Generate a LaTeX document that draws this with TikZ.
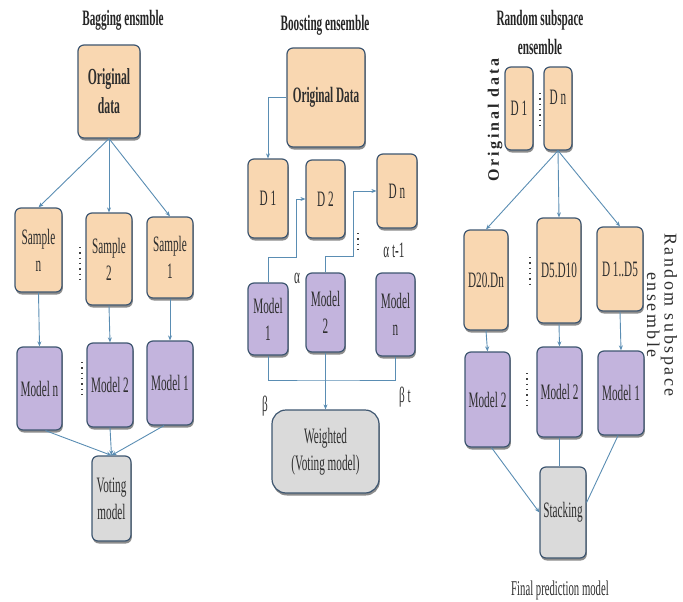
\documentclass[tikz,border=0pt]{standalone}
\usepackage{fontspec}
\setmainfont{Liberation Serif}[FakeStretch=0.51]
\newfontfamily\sidefont{Liberation Serif}[LetterSpace=14]
\newfontfamily\sideboldfont{Liberation Serif Bold}[LetterSpace=18]
\usetikzlibrary{arrows.meta,shadows,calc}

\definecolor{peach}{HTML}{F9D7B1}
\definecolor{lilac}{HTML}{C3B4DD}
\definecolor{greybox}{HTML}{DADADA}
\definecolor{edge}{HTML}{3E5670}
\definecolor{wire}{HTML}{5A8DB3}
\definecolor{txt}{HTML}{2E2E2E}

\tikzset{
  box/.style={draw=edge, line width=1.2pt, rounded corners=6pt, inner sep=0pt,
    align=center, text=txt, font=\fontsize{22}{27}\selectfont,
    drop shadow={shadow xshift=0.8pt, shadow yshift=-2.5pt, opacity=0.45, fill=black}},
  obox/.style={box, fill=peach},
  pbox/.style={box, fill=lilac},
  gbox/.style={box, fill=greybox},
  sz/.style 2 args={minimum width=#1pt, minimum height=#2pt},
  link/.style={draw=wire, line width=0.9pt, -{Stealth[length=5pt,width=4pt]}},
  plainlink/.style={draw=wire, line width=0.9pt},
  dotcol/.style={draw=black!75, line width=1.3pt, dash pattern=on 1.3pt off 4pt},
  heading/.style={font=\fontsize{22}{29}\selectfont\bfseries, text=black!85, align=center},
  note/.style={font=\fontsize{22}{27}\selectfont, text=txt}
}

\begin{document}
\begin{tikzpicture}[x=1pt, y=-1pt]
\useasboundingbox (0,0) rectangle (683,602);

% ---------------- Bagging ----------------
\node[heading] (bT) at (123,20) {Bagging ensmble};
\node[obox, sz={62}{93}, font=\fontsize{23}{29}\selectfont\bfseries] (bOrig) at (109,91.5) {Original\\data};
\node[obox, sz={47}{84}] (bSn) at (38.5,250) {Sample\\n};
\node[obox, sz={46}{92}] (bS2) at (109,259) {Sample\\2};
\node[obox, sz={46}{81}] (bS1) at (170,257.5) {Sample\\1};
\node[pbox, sz={45}{83}] (bMn) at (39.5,388.5) {Model n};
\node[pbox, sz={46}{84}] (bM2) at (110,385) {Model 2};
\node[pbox, sz={46}{84}] (bM1) at (170,383) {Model 1};
\node[gbox, sz={39}{85}] (bV) at (111.5,498.5) {Voting\\model};

\draw[link] (bOrig.south) -- (bSn.north);
\draw[link] (bOrig.south) -- (bS2.north);
\draw[link] (bOrig.south) -- (bS1.north);
\draw[link] (bSn.south) -- (bMn.north);
\draw[link] (bS2.south) -- (bM2.north);
\draw[link] (bS1.south) -- (bM1.north);
\draw[link] ($(bMn.south)+(6,0)$) -- (bV.north);
\draw[link] (bM2.south) -- (bV.north);
\draw[link] ($(bM1.south)+(-6,0)$) -- (bV.north);
\draw[dotcol] (80,247) -- (80,279);
\draw[dotcol] (82,362) -- (82,394);

% ---------------- Boosting ----------------
\node[heading] (xT) at (325,25) {Boosting ensemble};
\node[obox, sz={78}{99}, font=\fontsize{22}{27}\selectfont\bfseries] (xOrig) at (326,97.5) {Original Data};
\node[obox, sz={40}{79}] (xD1) at (268,198.5) {D 1};
\node[obox, sz={39}{78}] (xD2) at (325.5,199) {D 2};
\node[obox, sz={40}{74}] (xDn) at (397,191) {D n};
\node[pbox, sz={40}{72}] (xM1) at (268,319) {Model\\1};
\node[pbox, sz={39}{79}] (xM2) at (325.5,312.5) {Model\\2};
\node[pbox, sz={39}{83}] (xMn) at (395.5,314.5) {Model\\n};
\node[gbox, sz={107}{83}, rounded corners=14pt] (xW) at (325.5,451.5) {Weighted\\(Voting model)};

\coordinate (k1) at (296,257);
\coordinate (k2) at (353,256);
\coordinate (k3) at (325,380);
\draw[link] (xOrig.west) -| (xD1.north);
\draw[link] (xM1.north) |- (k1) |- (xD2.west);
\draw[link] (xM2.north) |- (k2) |- (xDn.west);
\draw[plainlink] (xM1.south) |- (k3) -| (xMn.south);
\draw[link] (xM2.south) -- (xW.north);
\draw[dotcol] (358,233) -- (358,250);

\node[note] (aA) at (297,278) {α};
\node[note] (aT) at (394,250) {α t-1};
\node[note] (bB) at (265,406) {β};
\node[note] (bTt) at (405,397) {β t};

% ---------------- Random subspace ----------------
\node[heading] (rT) at (540,32) {Random subspace\\ensemble};
\node[font=\sideboldfont\fontsize{16}{20}\selectfont, text=black!85, rotate=90] (rOL) at (495,120) {Original data};
\node[obox, sz={28}{83}] (rD1) at (519,108.5) {D 1};
\node[obox, sz={28}{83}] (rDn) at (558,108.5) {};
\node[note] (rDnT) at (558,97) {D n};
\draw[dotcol] (540,93) -- (540,125);

\node[obox, sz={44}{100}] (rA) at (486,280) {D20.Dn};
\node[obox, sz={44}{105}] (rB) at (559,270.5) {D5.D10};
\node[obox, sz={46}{84}] (rC) at (620,269) {D 1..D5};
\draw[dotcol] (530,257) -- (530,287);

\node[pbox, sz={45}{95}] (rMa) at (487.5,399.5) {Model 2};
\node[pbox, sz={45}{90}] (rMb) at (559.5,392) {Model 2};
\node[pbox, sz={46}{84}] (rMc) at (621,393) {Model 1};
\draw[dotcol] (527,373) -- (527,405);

\node[gbox, sz={46}{91}] (rS) at (563,512.5) {Stacking};

\node[font=\sidefont\fontsize{18}{16}\selectfont, text=txt, rotate=-90, align=center] (rRL) at (662,315) {Random subspace\\ensemble};
\node[font=\fontsize{21}{26}\selectfont, text=txt] (rF) at (560,590) {Final prediction model};

\draw[link] (rDn.south) -- (rA.north);
\draw[link] (rDn.south) -- (rB.north);
\draw[link] (rDn.south) -- (rC.north);
\draw[link] (rA.south) -- (rMa.north);
\draw[link] (rB.south) -- (rMb.north);
\draw[link] (rC.south) -- (rMc.north);
\draw[link] ($(rMa.south)+(4,0)$) -- (rS.west);
\draw[plainlink] (rMb.south) -- (rMb.south |- rS.north);
\draw[plainlink] ($(rMc.south)+(-3,0)$) -- ($(rS.east)+(0,-10)$);
\end{tikzpicture}
\end{document}
